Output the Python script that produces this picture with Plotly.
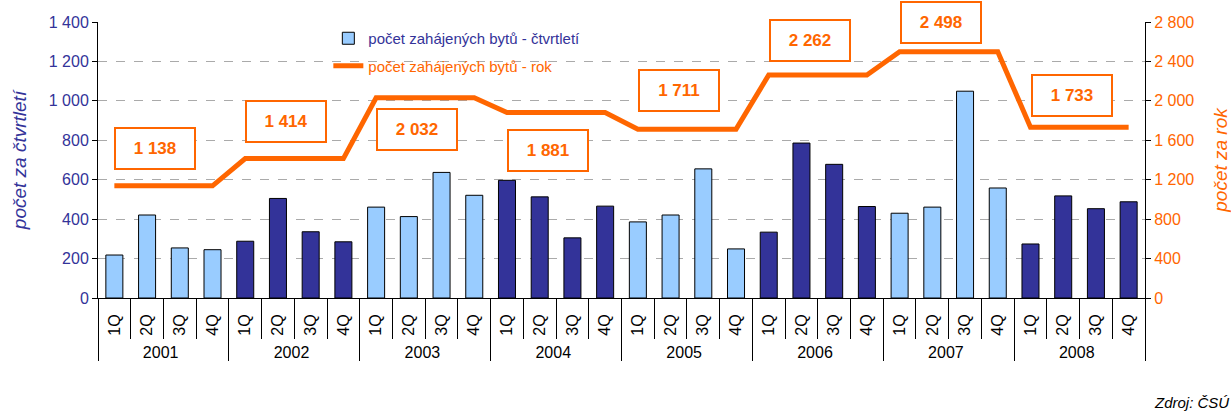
import plotly.graph_objects as go

years = ["2001", "2002", "2003", "2004", "2005", "2006", "2007", "2008"]
quarters = ["1Q", "2Q", "3Q", "4Q"]
quarterly = [218, 421, 254, 245,
             288, 505, 336, 285,
             461, 413, 637, 521,
             597, 513, 305, 466,
             386, 421, 655, 249,
             334, 786, 678, 464,
             430, 461, 1049, 558,
             274, 518, 453, 488]
annual = [1138, 1414, 2032, 1881, 1711, 2262, 2498, 1733]
annual_labels = ["1 138", "1 414", "2 032", "1 881", "1 711", "2 262", "2 498", "1 733"]
label_offsets = [37, 37, -32, -38, 39, 35, 29, 32]

LIGHT = "#99CCFF"
DARK = "#333399"
ORANGE = "#FF6600"
FONT = "Liberation Sans, Arial, sans-serif"

xyear = [y for y in years for _ in quarters]
xq = [q for _ in years for q in quarters]
bar_colors = [LIGHT if i % 2 == 0 else DARK for i, _ in enumerate(years) for _ in quarters]
line_vals = [a for a in annual for _ in quarters]

fig = go.Figure()
fig.add_trace(go.Bar(
    x=[xyear, xq], y=quarterly,
    name='<span style="color:#333399">počet zahájených bytů - čtvrtletí</span>',
    legendgroup="q",
    marker=dict(color=bar_colors, line=dict(color="#000000", width=1)),
    width=0.52,
))
fig.add_trace(go.Scatter(
    x=[xyear, xq], y=line_vals, yaxis="y2", mode="lines",
    name='<span style="color:#FF6600">počet zahájených bytů - rok</span>',
    legendgroup="r",
    line=dict(color=ORANGE, width=5),
))

n = len(xyear)
for i, (a, lab, off) in enumerate(zip(annual, annual_labels, label_offsets)):
    fig.add_annotation(
        xref="paper", yref="y2",
        x=(4 * i + 2) / n, y=a, xshift=-8, yshift=off,
        xanchor="center", yanchor="middle",
        text="<b>" + lab + "</b>", showarrow=False,
        font=dict(family=FONT, size=17, color=ORANGE),
        bgcolor="white", bordercolor=ORANGE, borderwidth=2, borderpad=4,
        width=70, height=31,
    )

fig.add_annotation(
    xref="paper", yref="paper", x=1.082, y=-0.38, xanchor="right", yanchor="middle",
    text="<i>Zdroj: ČSÚ</i>", showarrow=False,
    font=dict(family=FONT, size=15, color="#000000"),
)

fig.update_layout(
    width=1231, height=411,
    margin=dict(l=98, r=86, t=22, b=113, autoexpand=False),
    paper_bgcolor="white", plot_bgcolor="white",
    separators=", ",
    font=dict(family=FONT, size=15, color="#000000"),
    showlegend=True,
    legend=dict(x=0.22, y=1.0, xanchor="left", yanchor="top",
                bgcolor="rgba(0,0,0,0)", font=dict(size=15), tracegroupgap=5),
    xaxis=dict(
        type="multicategory", automargin=False,
        showline=True, linecolor="#000000", linewidth=1,
        ticks="outside", tickson="boundaries", ticklen=40, tickcolor="#000000",
        tickangle=-90, ticklabelstandoff=9,
        showdividers=True, dividercolor="#000000", dividerwidth=1,
        tickfont=dict(size=16, color="#000000"), showgrid=False,
    ),
    yaxis=dict(
        range=[0, 1400], dtick=200, tickformat=",d", automargin=False,
        showline=True, linecolor="#000000", linewidth=1,
        ticks="outside", ticklen=5, tickcolor="#000000",
        showgrid=True, gridcolor="#AAAAAA", griddash="dash", gridwidth=1,
        tickfont=dict(size=16, color=DARK), zeroline=False,
        title=dict(text="<i>počet za čtvrtletí</i>", font=dict(size=19, color=DARK), standoff=17),
    ),
    yaxis2=dict(
        range=[0, 2800], dtick=400, tickformat=",d", overlaying="y", side="right",
        automargin=False,
        showline=True, linecolor="#000000", linewidth=1,
        ticks="outside", ticklen=5, tickcolor="#000000",
        showgrid=False, zeroline=False,
        tickfont=dict(size=16, color=ORANGE),
        title=dict(text="<i>počet za rok</i>", font=dict(size=19, color=ORANGE), standoff=22),
    ),
)

fig.write_html("out.html", post_script="document.body.style.margin='0';",
               config={"displayModeBar": False})
